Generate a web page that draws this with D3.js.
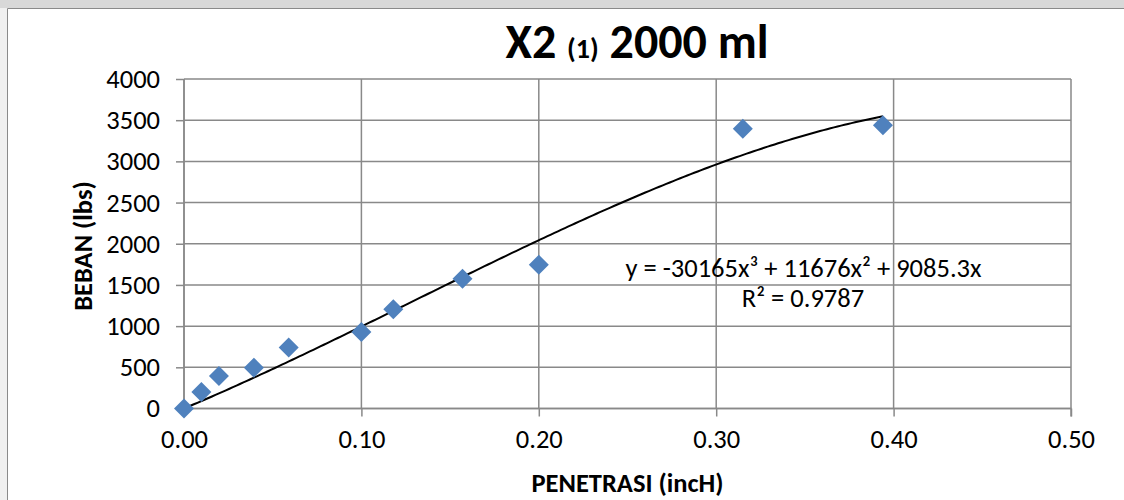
<!DOCTYPE html>
<html>
<head>
<meta charset="utf-8">
<script src="https://cdn.jsdelivr.net/npm/d3@7"></script>
<style>
  html, body { margin: 0; padding: 0; background: #ffffff; overflow: hidden; width: 1124px; height: 500px; }
  svg { display: block; }
  text { font-family: Carlito, Calibri, Lato, "Open Sans", sans-serif; fill: #000; }
</style>
</head>
<body>
<svg id="chart" width="1124" height="500"></svg>
<script>
// ---- data ----
const penetrasi = [0, 0.0098, 0.0197, 0.0394, 0.059, 0.100, 0.118, 0.157, 0.200, 0.315, 0.394];
const beban     = [0, 200, 395, 495, 740, 930, 1205, 1575, 1745, 3395, 3440];
const trendCoef = [0, 9085.3, 11676, -30165]; // c0 + c1 x + c2 x^2 + c3 x^3
const xTicks = [0, 0.1, 0.2, 0.3, 0.4, 0.5];
const yTicks = [0, 500, 1000, 1500, 2000, 2500, 3000, 3500, 4000];
const titleMain = "X2 ";
const titleSub = "(1)";
const titleRest = " 2000 ml";
const xTitle = "PENETRASI (incH)";
const yTitle = "BEBAN (lbs)";
const eqLine1 = "y = -30165x\u00B3 + 11676x\u00B2 + 9085.3x";
const eqLine2 = "R\u00B2 = 0.9787";

const FONT = "Carlito, Calibri, Lato, sans-serif";
const svg = d3.select("#chart");
const W = 1124, H = 500;

// background: white chart area, grey band on top and light band on left
svg.append("rect").attr("x", 0).attr("y", 0).attr("width", W).attr("height", H).attr("fill", "#ffffff");
svg.append("rect").attr("x", 0).attr("y", 0).attr("width", 7).attr("height", H).attr("fill", "#f0f0f0");
svg.append("rect").attr("x", 0).attr("y", 0).attr("width", W).attr("height", 8).attr("fill", "#d8d8d8");
// chart area border (top and left only visible)
svg.append("path").attr("d", `M7.5,${H}V8.5H${W}`)
  .attr("fill", "none").attr("stroke", "#8a8a8a").attr("stroke-width", 1);

const plot = { left: 184, right: 1071, top: 79, bottom: 408.5 };
const x = d3.scaleLinear().domain([0, 0.5]).range([plot.left, plot.right]);
const y = d3.scaleLinear().domain([0, 4000]).range([plot.bottom, plot.top]);

const gridColor = "#898989";

// gridlines
svg.append("g").selectAll("line").data(yTicks).join("line")
  .attr("x1", plot.left).attr("x2", plot.right)
  .attr("y1", d => y(d)).attr("y2", d => y(d))
  .attr("stroke", gridColor).attr("stroke-width", 1.5);
svg.append("g").selectAll("line").data(xTicks).join("line")
  .attr("x1", d => x(d)).attr("x2", d => x(d))
  .attr("y1", plot.top).attr("y2", plot.bottom)
  .attr("stroke", gridColor).attr("stroke-width", 1.5);

// axes
const yAxis = d3.axisLeft(y).tickValues(yTicks).tickSize(8).tickPadding(16).tickFormat(d3.format("d"));
const gy = svg.append("g").attr("transform", `translate(${plot.left},0)`).call(yAxis);
const xAxis = d3.axisBottom(x).tickValues(xTicks).tickSize(8).tickPadding(13).tickFormat(d3.format(".2f"));
const gx = svg.append("g").attr("transform", `translate(0,${plot.bottom})`).call(xAxis);
[gx, gy].forEach(g => {
  g.attr("font-family", FONT).attr("font-size", 26.5);
  g.select(".domain").attr("stroke", gridColor).attr("stroke-width", 1.5);
  g.selectAll(".tick line").attr("stroke", gridColor).attr("stroke-width", 1.5);
  g.selectAll(".tick text").attr("fill", "#000");
});
gy.select(".domain").attr("d", `M-8,${plot.bottom}H0V${plot.top}`);
gx.select(".domain").attr("d", `M${plot.left},8V0H${plot.right}V8`);

// trendline
const xMax = d3.max(penetrasi);
const trendPts = d3.range(0, 201).map(i => {
  const xv = xMax * i / 200;
  const yv = trendCoef.reduce((s, c, k) => s + c * Math.pow(xv, k), 0);
  return [xv, yv];
});
svg.append("path").datum(trendPts)
  .attr("d", d3.line().x(d => x(d[0])).y(d => y(d[1])))
  .attr("fill", "none").attr("stroke", "#000").attr("stroke-width", 2);

// markers
const pts = penetrasi.map((p, i) => ({ p, b: beban[i] }));
const diamond = d3.symbol().type(d3.symbolSquare).size(200);
svg.append("g").selectAll("path").data(pts).join("path")
  .attr("d", diamond)
  .attr("transform", d => `translate(${x(d.p)},${y(d.b)}) rotate(45)`)
  .attr("fill", "#4f81bd");

// equation label
svg.append("text").attr("x", 803.5).attr("y", 277).attr("text-anchor", "middle")
  .attr("font-size", 26.5).text(eqLine1);
svg.append("text").attr("x", 803).attr("y", 307).attr("text-anchor", "middle")
  .attr("font-size", 26.5).text(eqLine2);

// title
const t = svg.append("text").attr("x", 637).attr("y", 58).attr("text-anchor", "middle")
  .attr("font-weight", "bold");
t.append("tspan").attr("font-size", 48).text(titleMain);
t.append("tspan").attr("font-size", 28).text(titleSub);
t.append("tspan").attr("font-size", 48).text(titleRest);

// axis titles
svg.append("text").attr("x", (plot.left + plot.right) / 2).attr("y", 492).attr("text-anchor", "middle")
  .attr("font-size", 26.5).attr("font-weight", "bold").text(xTitle);
svg.append("text")
  .attr("transform", `translate(92,246) rotate(-90)`)
  .attr("text-anchor", "middle")
  .attr("font-size", 26.5).attr("font-weight", "bold").text(yTitle);
</script>
</body>
</html>
